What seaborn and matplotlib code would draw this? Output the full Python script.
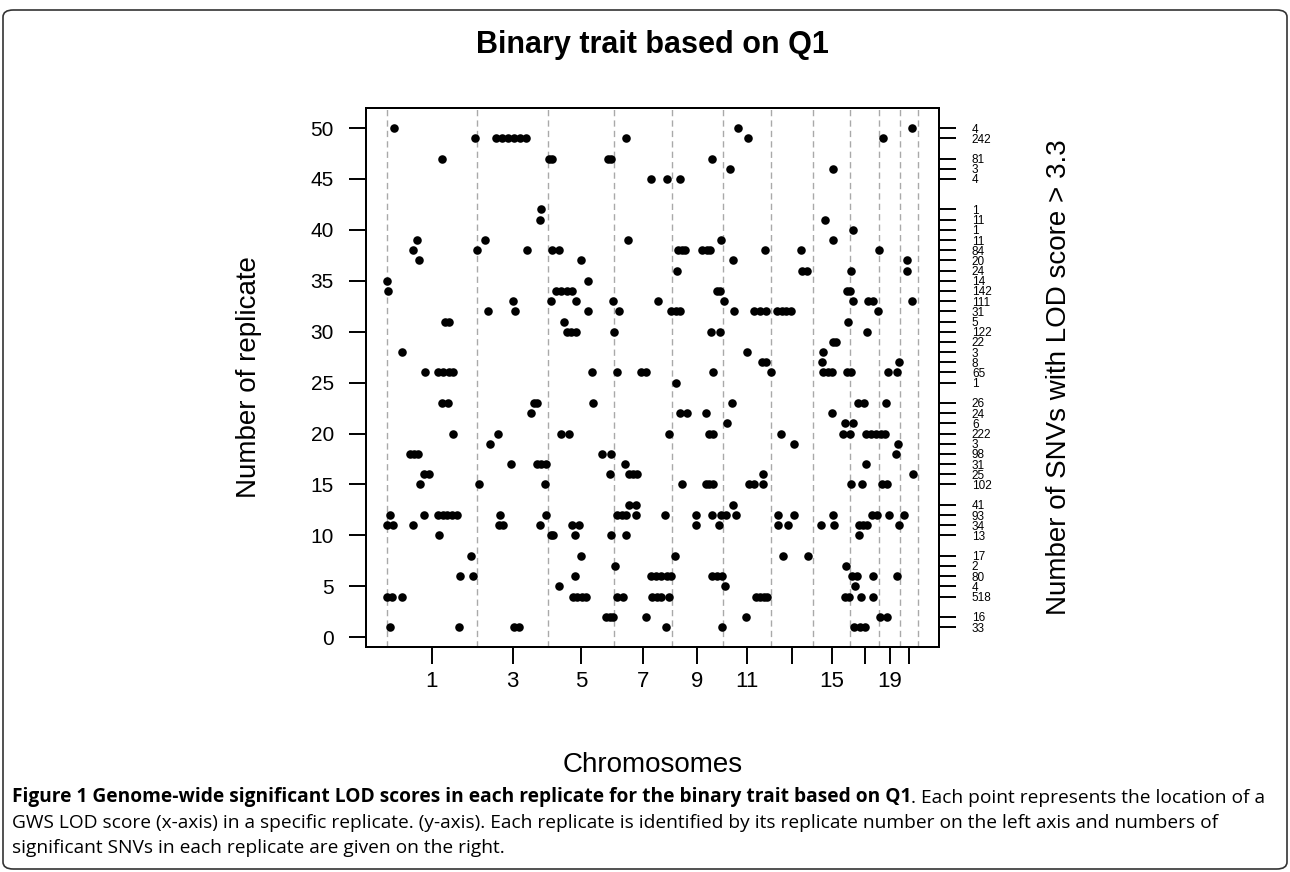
import matplotlib.pyplot as plt
import matplotlib.patches as mpatches
import seaborn as sns
import pandas as pd

# chromosome-pair boundaries along the genome (relative position units)
boundaries = [0, 89.6, 161, 226.6, 284, 335, 383.3, 425.3, 462.3, 491.3, 512.3, 530]
chrom_labels = ["1", "3", "5", "7", "9", "11", "", "15", "", "19", ""]

# genome positions of GWS LOD scores, one list per replicate
rep50 = [7, 350, 524]
rep49 = [88, 109, 115, 121, 127, 133, 139, 239, 360, 495]
rep47 = [55, 162, 165, 221, 224, 324]
rep46 = [342, 445]
rep45 = [264, 279, 292]
rep42 = [154]
rep41 = [153, 437]
rep40 = [465]
rep39 = [30, 98, 241, 333, 445]
rep38 = [26, 90, 140, 165, 172, 290, 294, 297, 314, 319, 322, 377, 413, 491]
rep37 = [32, 194, 345, 519]
rep36 = [289, 414, 419, 463, 519]
rep35 = [0, 201]
rep34 = [1, 169, 174, 180, 185, 329, 332, 459, 462]
rep33 = [126, 164, 189, 226, 271, 336, 465, 480, 485, 524]
rep32 = [101, 128, 201, 232, 283, 288, 292, 346, 366, 372, 378, 389, 394, 398, 403, 490]
rep31 = [58, 62, 177, 460]
rep30 = [180, 184, 189, 227, 323, 332, 479]
rep29 = [445, 448]
rep28 = [15, 359, 435]
rep27 = [374, 378, 434, 511]
rep26 = [38, 51, 56, 62, 66, 205, 230, 254, 259, 325, 383, 435, 440, 444, 459, 463, 500, 509]
rep25 = [288]
rep23 = [55, 61, 147, 150, 206, 344, 470, 476, 498]
rep22 = [144, 292, 299, 318, 444]
rep21 = [339, 457, 465]
rep20 = [66, 111, 174, 182, 281, 321, 325, 393, 455, 462, 478, 483, 488, 493, 497]
rep19 = [103, 406, 510]
rep18 = [23, 27, 31, 215, 224, 508]
rep17 = [124, 150, 154, 159, 238, 478]
rep16 = [37, 42, 223, 242, 246, 250, 375, 525]
rep15 = [33, 92, 158, 294, 318, 321, 325, 361, 366, 375, 463, 474, 494, 499]
rep13 = [242, 249, 345]
rep12 = [3, 37, 51, 56, 60, 65, 70, 113, 159, 230, 235, 239, 249, 277, 308, 324,
         333, 338, 348, 390, 406, 445, 484, 489, 501, 516]
rep11 = [0, 6, 26, 112, 116, 153, 185, 192, 308, 331, 390, 400, 433, 446, 471, 475, 479, 511]
rep10 = [52, 164, 166, 188, 224, 239, 471]
rep08 = [84, 194, 287, 395, 420]
rep07 = [228, 458]
rep06 = [73, 86, 188, 264, 269, 274, 279, 283, 324, 329, 334, 464, 469, 485, 509]
rep05 = [172, 337, 467]
rep04 = [0, 5, 15, 186, 190, 195, 199, 230, 236, 265, 270, 274, 281,
         368, 372, 376, 379, 457, 461, 473, 485]
rep02 = [219, 223, 226, 259, 358, 492, 499]
rep01 = [3, 72, 127, 132, 278, 334, 466, 472, 477]

replicate_rows = [
    (50, rep50), (49, rep49), (47, rep47), (46, rep46), (45, rep45), (42, rep42),
    (41, rep41), (40, rep40), (39, rep39), (38, rep38), (37, rep37), (36, rep36),
    (35, rep35), (34, rep34), (33, rep33), (32, rep32), (31, rep31), (30, rep30),
    (29, rep29), (28, rep28), (27, rep27), (26, rep26), (25, rep25), (23, rep23),
    (22, rep22), (21, rep21), (20, rep20), (19, rep19), (18, rep18), (17, rep17),
    (16, rep16), (15, rep15), (13, rep13), (12, rep12), (11, rep11), (10, rep10),
    (8, rep08), (7, rep07), (6, rep06), (5, rep05), (4, rep04), (2, rep02), (1, rep01),
]

# number of significant SNVs per replicate (right axis)
count_reps = [50, 49, 47, 46, 45, 42, 41, 40, 39, 38, 37, 36, 35, 34, 33, 32, 31, 30,
              29, 28, 27, 26, 25, 23, 22, 21, 20, 19, 18, 17, 16, 15, 13, 12, 11, 10,
              8, 7, 6, 5, 4, 2, 1]
snv_counts = [4, 242, 81, 3, 4, 1, 11, 1, 11, 84, 20, 24, 14, 142, 111, 31, 5, 122,
              22, 3, 8, 65, 1, 26, 24, 6, 222, 3, 98, 31, 25, 102, 41, 93, 34, 13,
              17, 2, 80, 4, 518, 16, 33]

df = pd.DataFrame(
    [(pos, rep) for rep, plist in replicate_rows for pos in plist],
    columns=["position", "replicate"],
)

sns.set_theme(style="ticks", rc={"text.color": "black", "axes.labelcolor": "black",
                                 "xtick.color": "black", "ytick.color": "black",
                                 "axes.edgecolor": "black"})
plt.rcParams["font.family"] = ["Liberation Sans", "DejaVu Sans"]

fig = plt.figure(figsize=(12.9, 8.72), dpi=100)
ax = fig.add_axes([0.2835, 0.258, 0.4446, 0.6181])

for b in boundaries:
    ax.axvline(b, color="#a9a9a9", lw=1.0, ls=(0, (4.5, 3)), zorder=1)

sns.scatterplot(data=df, x="position", y="replicate", color="black",
                s=38, linewidth=0, ax=ax, zorder=3, legend=False)

span = boundaries[-1] - boundaries[0]
ax.set_xlim(boundaries[0] - 0.04 * span, boundaries[-1] + 0.04 * span)
ax.set_ylim(1 - 0.04 * 49, 50 + 0.04 * 49)

mids = [(a + b) / 2 for a, b in zip(boundaries[:-1], boundaries[1:])]
ax.set_xticks(mids, chrom_labels)
ax.set_yticks(range(0, 51, 5))
ax.tick_params(axis="both", direction="out", length=12, width=1.4,
               bottom=True, left=True)
ax.tick_params(axis="x", labelsize=16, pad=5)
ax.tick_params(axis="y", labelsize=15, pad=11)
for sp in ax.spines.values():
    sp.set_linewidth(1.4)
    sp.set_visible(True)

ax.set_xlabel("Chromosomes", fontsize=20)
ax.xaxis.set_label_coords(0.5, -(765 - 647) / 539)
ax.xaxis.label.set_va("center")
ax.set_ylabel("Number of replicate", fontsize=20)
ax.yaxis.set_label_coords(-(365.7 - 249) / 573.6, 0.5)
ax.yaxis.label.set_va("center")

ax2 = ax.twinx()
ax2.set_ylim(ax.get_ylim())
ax2.set_yticks(count_reps, [str(c) for c in snv_counts])
ax2.tick_params(axis="y", direction="out", length=12.5, width=1.4,
                labelsize=8.5, pad=11, right=True)
ax2.set_ylabel("Number of SNVs with LOD score > 3.3", fontsize=20)
ax2.yaxis.set_label_coords((1059 - 365.7) / 573.6, 0.5)
ax2.yaxis.label.set_va("center")
for sp in ax2.spines.values():
    sp.set_linewidth(1.4)

fig.text(652.5 / 1290, 1 - 45 / 872, "Binary trait based on Q1", fontsize=22,
         fontweight="bold", ha="center", va="center")

# caption
cap_font = ["Open Sans", "DejaVu Sans"]
cap_size = 13.8
t1 = fig.text(12 / 1290, 1 - 802 / 872,
              "Figure 1 Genome-wide significant LOD scores in each replicate for the binary trait based on Q1",
              fontsize=cap_size, fontweight="bold", family=cap_font, va="baseline", ha="left")
ax.annotate(". Each point represents the location of a", xy=(1, 0), xycoords=t1,
            fontsize=cap_size, family=cap_font, va="bottom", ha="left",
            annotation_clip=False)
fig.text(12 / 1290, 1 - 828 / 872,
         "GWS LOD score (x-axis) in a specific replicate. (y-axis). Each replicate is identified by its replicate number on the left axis and numbers of",
         fontsize=cap_size, family=cap_font, va="baseline", ha="left")
fig.text(12 / 1290, 1 - 853 / 872,
         "significant SNVs in each replicate are given on the right.",
         fontsize=cap_size, family=cap_font, va="baseline", ha="left")

border = mpatches.FancyBboxPatch((3 / 1290, 3 / 872), 1284 / 1290, 859 / 872,
                                 boxstyle="round,pad=0,rounding_size=0.008",
                                 transform=fig.transFigure, fill=False,
                                 edgecolor="#333333", linewidth=1.2)
fig.patches.append(border)

fig.savefig("out.png", dpi=100)
